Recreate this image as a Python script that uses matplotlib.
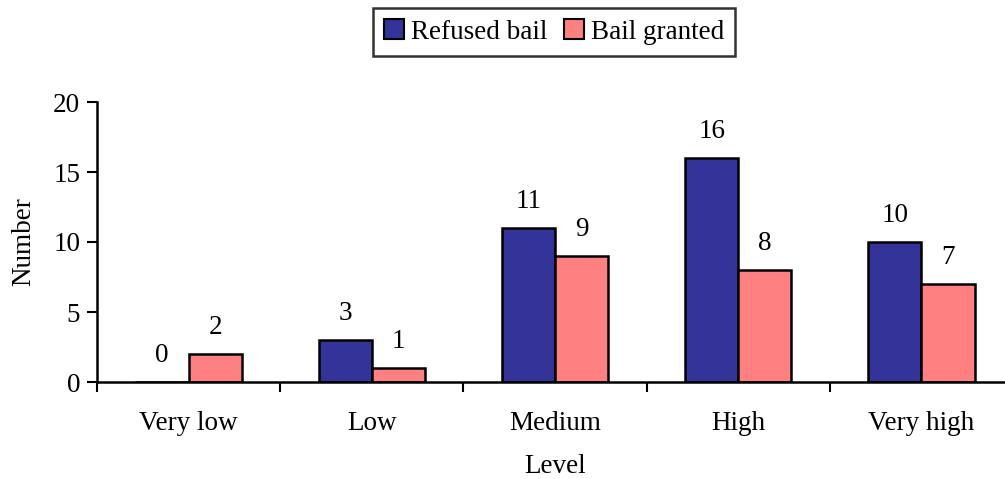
import numpy as np
import matplotlib
matplotlib.use("Agg")
import matplotlib.pyplot as plt

levels = ["Very low", "Low", "Medium", "High", "Very high"]
refused_bail = [0, 3, 11, 16, 10]
bail_granted = [2, 1, 9, 8, 7]
y_ticks = [0, 5, 10, 15, 20]

plt.rcParams["font.family"] = ["Liberation Serif", "DejaVu Serif"]
plt.rcParams["font.size"] = 19.5

fig = plt.figure(figsize=(10.05, 4.79), dpi=100)
ax = fig.add_axes([97 / 1005, 1 - 382 / 479, 916 / 1005, 280 / 479])

x = np.arange(len(levels))
w = 0.29
b1 = ax.bar(x - w / 2, refused_bail, w, color="#333399", edgecolor="black",
            linewidth=1.8, label="Refused bail")
b2 = ax.bar(x + w / 2, bail_granted, w, color="#FF8080", edgecolor="black",
            linewidth=1.8, label="Bail granted")

for bars, vals in ((b1, refused_bail), (b2, bail_granted)):
    for rect, v in zip(bars, vals):
        ax.annotate(str(v), (rect.get_x() + rect.get_width() / 2, v),
                    xytext=(0, 10), textcoords="offset points",
                    ha="center", va="bottom")

ax.set_xlim(-0.5, len(levels) - 0.5)
ax.set_ylim(0, 20)
ax.set_yticks(y_ticks)
ax.set_xticks(x)
ax.set_xticklabels(levels)
ax.set_xticks(np.arange(len(levels) + 1) - 0.5, minor=True)
ax.tick_params(axis="x", which="major", length=0, pad=21)
ax.tick_params(axis="x", which="minor", length=7, width=1.5, direction="out")
ax.tick_params(axis="y", length=7, width=1.5, direction="out", pad=5)

for s in ("top", "right"):
    ax.spines[s].set_visible(False)
for s in ("left", "bottom"):
    ax.spines[s].set_linewidth(1.8)

ax.set_xlabel("Level", labelpad=13)
ax.set_ylabel("Number", labelpad=12)

leg = fig.legend(loc="center", bbox_to_anchor=(554 / 1005, 1 - 32 / 479), ncol=2,
                 frameon=True, fancybox=False, edgecolor="black",
                 handlelength=0.75, handleheight=0.75, handletextpad=0.25,
                 columnspacing=0.6, borderpad=0.4, borderaxespad=0)
leg.get_frame().set_linewidth(1.8)
for h in leg.legend_handles:
    h.set_linewidth(1.5)

fig.savefig("out.png", dpi=100)
